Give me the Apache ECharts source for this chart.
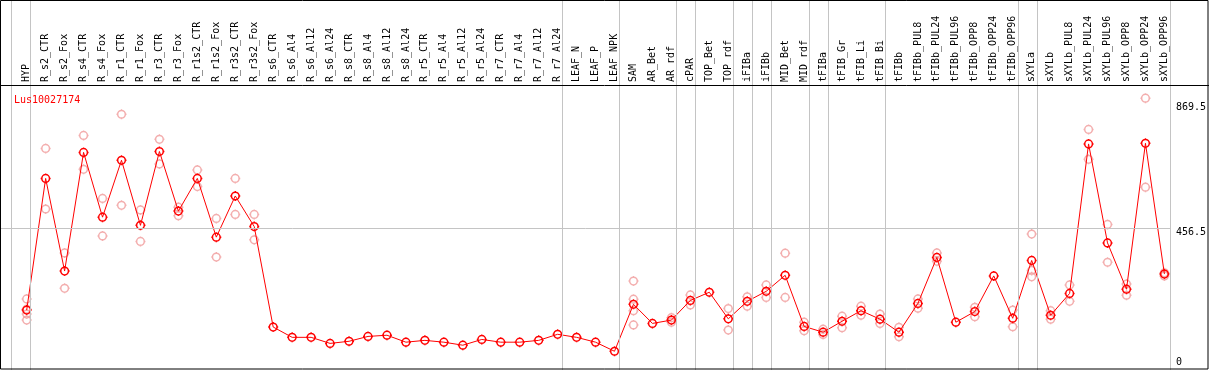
<!DOCTYPE html>
<html>
<head>
<meta charset="utf-8">
<script src="https://cdn.jsdelivr.net/npm/echarts@6/dist/echarts.min.js"></script>
<style>
  html, body { margin: 0; padding: 0; background: #fff; }
  #chart { width: 1209px; height: 370px; }
</style>
</head>
<body>
<div id="chart"></div>
<script>
// ---------------- DATA ----------------
const geneName = 'Lus10027174';

const categories = [
  'HYP', 'R_s2_CTR', 'R_s2_Fox', 'R_s4_CTR', 'R_s4_Fox', 'R_r1_CTR', 'R_r1_Fox',
  'R_r3_CTR', 'R_r3_Fox', 'R_r1s2_CTR', 'R_r1s2_Fox', 'R_r3s2_CTR', 'R_r3s2_Fox',
  'R_s6_CTR', 'R_s6_Al4', 'R_s6_Al12', 'R_s6_Al24', 'R_s8_CTR', 'R_s8_Al4',
  'R_s8_Al12', 'R_s8_Al24', 'R_r5_CTR', 'R_r5_Al4', 'R_r5_Al12', 'R_r5_Al24',
  'R_r7_CTR', 'R_r7_Al4', 'R_r7_Al12', 'R_r7_Al24', 'LEAF_N', 'LEAF_P', 'LEAF_NPK',
  'SAM', 'AR_Bet', 'AR_rdf', 'cPAR', 'TOP_Bet', 'TOP_rdf', 'iFIBa', 'iFIBb',
  'MID_Bet', 'MID_rdf', 'tFIBa', 'tFIB_Gr', 'tFIB_Li', 'tFIB_Bi', 'tFIBb',
  'tFIBb_PUL8', 'tFIBb_PUL24', 'tFIBb_PUL96', 'tFIBb_OPP8', 'tFIBb_OPP24', 'tFIBb_OPP96',
  'sXYLa', 'sXYLb', 'sXYLb_PUL8', 'sXYLb_PUL24', 'sXYLb_PUL96', 'sXYLb_OPP8',
  'sXYLb_OPP24', 'sXYLb_OPP96'
];

// mean expression per sample (dark red markers joined by the line)
const means = [
  187, 622, 316, 708, 494, 682, 467, 711, 514, 622, 428, 564, 463,
  131, 97, 97, 77, 84, 100, 104, 81, 87, 81, 71, 90, 81, 81, 87, 107,
  97, 81, 51,
  206, 143, 154, 219, 246, 158, 216, 249, 302, 133, 114, 150, 185, 157, 114,
  209, 361, 147, 182, 300, 160,
  351, 170, 242, 736, 409, 256, 738, 306
];

// individual replicate values (light markers), aligned with categories
const replicates = [
  [224, 190, 174, 154], [721, 521], [376, 259], [764, 652], [556, 432], [834, 533], [518, 414],
  [751, 670], [527, 499], [650, 595], [490, 362], [622, 503], [503, 419],
  [], [], [], [], [], [], [], [], [], [], [], [], [], [], [], [],
  [], [], [],
  [283, 223, 185, 138], [], [162, 147], [237, 204], [], [192, 121], [231, 200], [270, 229],
  [375, 229], [147, 119], [124, 106], [167, 129], [200, 170], [174, 143], [130, 99],
  [224, 193], [376, 348], [], [196, 165], [], [187, 132],
  [438, 318, 297], [185, 157], [270, 216], [784, 685], [470, 345], [273, 236], [887, 593], [310, 300]
];

// y-axis tick labels
const yTicks = [0, 456.5, 869.5];

// indices of the last sample of each group (separator drawn after it)
const groupEnds = [-1, 0, 28, 31, 34, 35, 37, 38, 39, 41, 42, 45, 52, 53, 60];

// ---------------- LAYOUT ----------------
const W = 1209, H = 370;
const BAND = 19;                    // px per sample
const FIRST_CENTER = 26.7;          // px of first sample centre
const PLOT_RIGHT = 1170.7;          // right edge of the plot frame
const HEADER = 85;                  // label header height
const Y_ZERO_PX = 366.7, Y_TOP_PX = 103.5; // pixel of 0 and of top tick
const SEP_OFFSET = 4 / BAND;        // separators sit 4px right of a sample centre

const dataLeft = FIRST_CENTER - BAND / 2;
const dataWidth = categories.length * BAND;
const dataRight = W - (dataLeft + dataWidth);

const k = (Y_ZERO_PX - Y_TOP_PX) / yTicks[2];
const yMax1 = (Y_ZERO_PX - HEADER) / k;
const yMin = (Y_ZERO_PX - H) / k;
const yMax0 = Y_ZERO_PX / k;

const xMin0 = -0.5 - dataLeft / BAND;
const xMax0 = (PLOT_RIGHT - dataLeft) / BAND - 0.5;

const MONO = '"DejaVu Sans Mono", "Liberation Mono", monospace';
const MARKER = 'path://M5,0L6.5,0M-5,0L-6.5,0M0,5L0,6.5M0,-5L0,-6.5M5,0A5,5,0,1,1,-5,0A5,5,0,1,1,5,0';

const repData = [];
replicates.forEach((arr, i) => arr.forEach(v => repData.push([categories[i], v])));

const sepLines = groupEnds.map(i => ({ xAxis: i + SEP_OFFSET }));

const chart = echarts.init(document.getElementById('chart'), null, { renderer: 'canvas' });
chart.setOption({
  animation: false,
  backgroundColor: '#fff',
  title: {
    text: geneName,
    left: 9, top: 90,
    textStyle: { color: '#ff0000', fontSize: 10, fontWeight: 'normal', fontFamily: MONO }
  },
  grid: [
    { left: 0, right: W - PLOT_RIGHT, top: 0, bottom: 0 },
    { left: dataLeft, right: dataRight, top: HEADER, bottom: 0 }
  ],
  xAxis: [
    { type: 'value', gridIndex: 0, min: xMin0, max: xMax0, show: false },
    {
      type: 'category', gridIndex: 1, position: 'top', data: categories, boundaryGap: true,
      axisLine: { show: false }, axisTick: { show: false }, splitLine: { show: false },
      axisLabel: { interval: 0, rotate: 90, margin: 3, color: '#000', fontSize: 10, fontFamily: MONO }
    }
  ],
  yAxis: [
    { type: 'value', gridIndex: 0, min: yMin, max: yMax0, show: false },
    {
      type: 'value', gridIndex: 1, position: 'right', min: yMin, max: yMax1,
      axisLine: { show: false }, axisTick: { show: false }, splitLine: { show: false },
      axisLabel: {
        customValues: yTicks, margin: 2, color: '#000', fontSize: 10, fontFamily: MONO,
        formatter: v => v === 0 ? '{z|0}' : '{n|' + v + '}',
        rich: {
          z: { padding: [0, 0, 9, 0], fontSize: 10, fontFamily: MONO, color: '#000' },
          n: { padding: [7, 0, 0, 0], fontSize: 10, fontFamily: MONO, color: '#000' }
        }
      }
    }
  ],
  series: [
    {
      type: 'scatter', xAxisIndex: 0, yAxisIndex: 0, data: [], silent: true,
      markLine: {
        silent: true, symbol: ['none', 'none'], label: { show: false },
        lineStyle: { color: '#c4c4c4', width: 1, type: 'solid' },
        data: sepLines.concat([{ yAxis: yTicks[1] }])
      }
    },
    {
      name: 'replicates', type: 'scatter', xAxisIndex: 1, yAxisIndex: 1, data: repData,
      symbol: MARKER, symbolSize: 10,
      itemStyle: { color: 'rgba(0,0,0,0)', borderColor: '#f09a9a', borderWidth: 1.5 },
      z: 2
    },
    {
      name: 'mean', type: 'line', xAxisIndex: 1, yAxisIndex: 1, data: means,
      symbol: MARKER, symbolSize: 10, showAllSymbol: true,
      lineStyle: { color: '#ff0000', width: 1 },
      itemStyle: { color: 'rgba(0,0,0,0)', borderColor: '#ff0000', borderWidth: 1.5 },
      z: 3
    }
  ],
  graphic: [
    { type: 'rect', z: 100, silent: true,
      shape: { x: 0.5, y: 0.5, width: W - 1.5, height: H - 1.5 },
      style: { fill: 'none', stroke: '#000', lineWidth: 1 } },
    { type: 'line', z: 100, silent: true,
      shape: { x1: 0, y1: HEADER + 0.5, x2: W, y2: HEADER + 0.5 },
      style: { stroke: '#000', lineWidth: 1 } }
  ]
});
</script>
</body>
</html>
